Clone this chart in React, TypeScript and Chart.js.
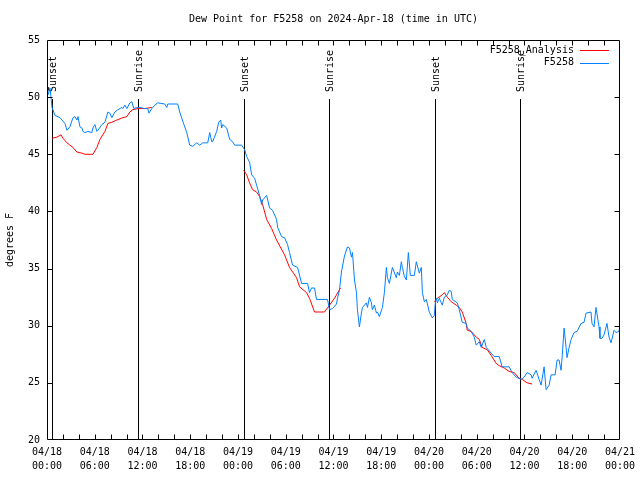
import React, { useEffect, useRef } from "react";
import { Chart, registerables } from "chart.js";

Chart.register(...registerables);

const FONT = '"DejaVu Sans Mono", monospace';
const TITLE = "Dew Point for F5258 on 2024-Apr-18 (time in UTC)";
const Y_TITLE = "degrees F";
const SERIES_NAMES = ["F5258_Analysis", "F5258"];
const SERIES_COLORS = ["#ff0000", "#0080ff"];

// hours since 2024-04-18 00:00 UTC
const blueHours = [
  0.13, 0.38, 0.63, 1.0, 1.63, 2.26, 2.51, 2.88, 3.26, 3.51, 3.76, 3.89, 4.14, 4.39, 4.52, 4.77, 5.14, 5.64, 5.77, 6.02,
  6.27, 6.4, 6.9, 7.28, 7.65, 7.9, 8.15, 8.53, 8.91, 9.41, 9.53, 9.78, 10.04, 10.41, 10.66, 10.91, 11.29, 11.67, 12.29, 12.67,
  12.8, 13.17, 13.55, 13.92, 14.8, 15.05, 15.18, 16.43, 16.68, 17.06, 17.56, 17.94, 18.31, 18.82, 19.19, 19.57, 20.2, 20.45, 20.7, 20.82,
  21.32, 21.58, 21.83, 21.95, 22.08, 22.58, 22.96, 23.33, 23.58, 24.46, 24.84, 25.09, 25.46, 25.72, 26.09, 26.34, 26.72, 26.97, 27.1, 27.6,
  27.97, 28.35, 28.85, 28.98, 29.48, 29.85, 30.23, 30.48, 30.86, 31.49, 31.99, 32.74, 32.99, 33.24, 33.62, 33.87, 35.25, 35.5, 35.88, 36.38,
  36.5, 36.75, 37.0, 37.38, 37.76, 38.01, 38.26, 38.39, 38.64, 38.89, 39.01, 39.26, 39.51, 39.64, 40.14, 40.27, 40.52, 40.77, 40.89, 41.14,
  41.4, 41.52, 41.77, 42.15, 42.4, 42.65, 42.78, 43.03, 43.4, 43.9, 44.03, 44.28, 44.53, 44.66, 44.91, 45.16, 45.41, 45.66, 46.16, 46.41,
  46.79, 47.04, 47.17, 47.42, 47.67, 48.04, 48.42, 48.67, 48.8, 48.92, 49.05, 49.3, 49.67, 49.93, 50.3, 50.55, 50.8, 50.93, 51.56, 51.81,
  52.18, 52.68, 52.81, 53.31, 53.69, 53.94, 54.32, 54.57, 54.95, 55.2, 55.82, 56.2, 56.83, 57.2, 58.08, 58.46, 58.96, 59.58, 59.96, 60.34,
  60.84, 60.96, 61.47, 61.84, 62.09, 62.47, 62.72, 63.1, 63.35, 63.85, 64.1, 64.35, 64.6, 64.73, 64.98, 65.23, 65.35, 65.61, 65.86, 66.23,
  66.61, 67.11, 67.49, 67.74, 68.36, 68.49, 68.74, 68.99, 69.37, 69.49, 69.75, 70.0, 70.37, 70.63, 70.88, 71.26, 71.51, 71.88, 72.0,
];
const blueValues = [
  50.2, 50.8, 49.1, 48.4, 48.2, 47.7, 47.1, 47.4, 48.2, 48.3, 48.0, 48.3, 47.4, 47.3, 47.0, 46.9, 47.0, 46.9, 47.3, 47.6,
  47.0, 47.1, 47.6, 47.8, 48.7, 48.6, 48.2, 48.7, 48.9, 49.1, 49.0, 49.3, 49.0, 49.5, 49.6, 49.0, 49.1, 49.1, 49.0, 49.0,
  48.6, 49.0, 49.3, 49.5, 49.4, 49.1, 49.4, 49.4, 48.7, 47.9, 46.9, 45.8, 45.7, 46.0, 45.8, 46.0, 46.0, 46.9, 46.1, 46.1,
  47.0, 47.8, 48.0, 47.3, 47.6, 47.3, 46.3, 46.1, 45.8, 45.8, 45.4, 44.8, 44.3, 43.2, 42.9, 42.3, 41.4, 40.6, 41.0, 41.4,
  40.3, 40.1, 39.3, 38.6, 37.8, 37.7, 37.1, 36.4, 35.3, 35.1, 33.7, 33.7, 32.9, 33.3, 33.3, 32.3, 32.3, 31.4, 31.5, 31.9,
  32.4, 33.1, 34.7, 36.1, 36.9, 36.8, 36.0, 36.4, 34.0, 32.9, 31.4, 29.9, 31.1, 31.6, 32.0, 31.6, 32.5, 32.0, 31.4, 31.8,
  31.1, 31.2, 30.8, 31.6, 32.9, 35.1, 34.2, 33.7, 35.1, 34.2, 34.7, 34.4, 35.6, 35.1, 34.3, 34.0, 36.4, 34.4, 34.4, 35.6,
  34.6, 35.1, 32.9, 32.1, 32.3, 31.2, 30.7, 30.9, 32.0, 32.4, 32.0, 32.4, 31.8, 32.5, 32.7, 33.1, 33.0, 32.3, 32.0, 31.4,
  30.3, 30.2, 29.8, 29.5, 29.0, 28.3, 28.6, 28.1, 28.8, 28.1, 27.6, 27.3, 27.3, 26.4, 26.4, 25.9, 25.5, 25.3, 25.5, 25.9,
  25.7, 25.4, 26.1, 25.3, 24.8, 26.4, 24.4, 24.8, 25.7, 25.7, 27.0, 27.0, 26.1, 27.2, 29.8, 28.1, 27.2, 28.1, 28.8, 29.4,
  29.5, 30.2, 30.3, 31.1, 31.2, 30.2, 29.9, 31.6, 29.9, 28.9, 28.9, 29.2, 30.2, 29.0, 28.5, 29.6, 29.4, 29.5, 29.9,
];

// analysis: three night-time segments, separated by gaps (null)
const redHours = [
  0.63, 1.25, 1.76, 2.01, 2.51, 2.88, 3.26, 3.76, 4.39, 4.77, 5.77, 6.27, 6.65, 7.28, 7.65, 8.15, 8.78, 9.53, 10.04, 10.41,
  10.79, 11.42, 12.29, 13.17,
  18.0,
  24.71, 25.09, 25.46, 25.84, 26.34, 26.72, 27.1, 27.6, 28.23, 28.85, 29.85, 30.48, 31.36, 31.74, 32.61, 32.99, 33.62, 34.87, 35.5, 36.13,
  36.88,
  42.0,
  48.67, 49.05, 49.67, 49.93, 50.3, 50.8, 51.43, 51.81, 52.18, 52.68, 52.81, 53.31, 53.94, 54.32, 54.69, 55.32, 55.82, 56.45, 56.83, 57.45,
  58.08, 58.71, 59.33, 59.71, 60.34, 60.96,
];
const redValues = [
  46.4, 46.5, 46.7, 46.4, 46.0, 45.8, 45.6, 45.2, 45.1, 45.0, 45.0, 45.6, 46.3, 47.0, 47.7, 47.8, 48.0, 48.2, 48.3, 48.7,
  48.9, 49.0, 49.0, 49.1,
  null,
  43.6, 43.2, 42.5, 41.9, 41.7, 41.3, 40.6, 39.3, 38.5, 37.5, 36.2, 35.1, 34.2, 33.4, 32.9, 32.4, 31.2, 31.2, 31.8, 32.4,
  33.3,
  null,
  32.1, 32.4, 32.7, 32.9, 32.5, 32.1, 31.8, 31.6, 31.2, 30.2, 29.6, 29.5, 29.0, 28.8, 28.1, 27.9, 27.4, 26.7, 26.5, 26.3,
  26.0, 25.9, 25.4, 25.3, 25.0, 24.9,
];

const sunLabels = ["Sunset", "Sunrise", "Sunset", "Sunrise", "Sunset", "Sunrise"];
const sunHours = [0.63, 11.42, 24.71, 35.5, 48.8, 59.46];

const X_MIN = 0;
const X_MAX = 72;
const X_STEP = 2;
const X_LABEL_EVERY = 6;
const Y_MIN = 20;
const Y_MAX = 55;
const Y_STEP = 5;
const START_DAY = 18;

function xLabel(v: number): string | string[] {
  if (v % X_LABEL_EVERY !== 0) return "";
  const day = START_DAY + Math.floor(v / 24);
  const hh = v % 24;
  return ["04/" + String(day).padStart(2, "0"), String(hh).padStart(2, "0") + ":00"];
}

const overlay = {
  id: "gnuplotOverlay",
  beforeDatasetsDraw(chart: any) {
    const { ctx, chartArea: a, scales } = chart;
    const xs = scales.x;
    ctx.save();
    ctx.strokeStyle = "#000";
    ctx.lineWidth = 1;
    ctx.fillStyle = "#000";
    ctx.font = "10px " + FONT;
    sunHours.forEach((h, i) => {
      const px = Math.round(xs.getPixelForValue(h)) + 0.5;
      ctx.beginPath();
      ctx.moveTo(px, a.bottom);
      ctx.lineTo(px, a.top + 59);
      ctx.stroke();
      ctx.save();
      ctx.translate(px + 1, a.top + 52);
      ctx.rotate(-Math.PI / 2);
      ctx.textAlign = "left";
      ctx.textBaseline = "middle";
      ctx.fillText(sunLabels[i], 0, 0);
      ctx.restore();
    });
    ctx.restore();
  },
  afterDraw(chart: any) {
    const { ctx, chartArea: a, scales } = chart;
    const xs = scales.x;
    const ys = scales.y;
    ctx.save();
    ctx.strokeStyle = "#000";
    ctx.lineWidth = 1;
    const L = Math.round(a.left) + 0.5;
    const R = Math.round(a.right) - 0.5;
    const T = Math.round(a.top) + 0.5;
    const B = Math.round(a.bottom) - 0.5;
    ctx.beginPath();
    ctx.rect(L, T, R - L, B - T);
    ctx.stroke();
    const tl = 5;
    ctx.beginPath();
    for (let v = X_MIN + X_STEP; v < X_MAX; v += X_STEP) {
      const px = Math.round(xs.getPixelForValue(v)) + 0.5;
      ctx.moveTo(px, B);
      ctx.lineTo(px, B - tl);
      ctx.moveTo(px, T);
      ctx.lineTo(px, T + tl);
    }
    for (let v = Y_MIN + Y_STEP; v < Y_MAX; v += Y_STEP) {
      const py = Math.round(ys.getPixelForValue(v)) + 0.5;
      ctx.moveTo(L, py);
      ctx.lineTo(L + tl, py);
      ctx.moveTo(R, py);
      ctx.lineTo(R - tl, py);
    }
    ctx.stroke();

    // title
    ctx.fillStyle = "#000";
    ctx.font = "10px " + FONT;
    ctx.textAlign = "center";
    ctx.textBaseline = "middle";
    ctx.fillText(TITLE, (a.left + a.right) / 2, 19);

    // legend (gnuplot style: text, then sample line)
    ctx.textAlign = "right";
    SERIES_NAMES.forEach((name, i) => {
      const yy = a.top + 10 + i * 12.5;
      ctx.fillStyle = "#000";
      ctx.fillText(name, a.right - 46, yy);
      ctx.strokeStyle = SERIES_COLORS[i];
      ctx.beginPath();
      ctx.moveTo(a.right - 40, Math.round(yy) + 0.5);
      ctx.lineTo(a.right - 11, Math.round(yy) + 0.5);
      ctx.stroke();
    });
    ctx.restore();
  },
};

export default function App() {
  const ref = useRef<HTMLCanvasElement | null>(null);
  useEffect(() => {
    if (!ref.current) return;
    const bluePts = blueHours.map((h, i) => ({ x: h, y: blueValues[i] }));
    const redPts = redHours.map((h, i) => ({ x: h, y: redValues[i] }));
    const chart = new Chart(ref.current, {
      type: "line",
      data: {
        datasets: [
          {
            label: SERIES_NAMES[1],
            data: bluePts as any,
            borderColor: SERIES_COLORS[1],
            borderWidth: 1,
            pointRadius: 0,
            tension: 0,
            fill: false,
          },
          {
            label: SERIES_NAMES[0],
            data: redPts as any,
            borderColor: SERIES_COLORS[0],
            borderWidth: 1,
            pointRadius: 0,
            tension: 0,
            fill: false,
            spanGaps: false,
          },
        ],
      },
      options: {
        animation: false,
        responsive: false,
        events: [],
        layout: { padding: { top: 40, right: 19, left: 0, bottom: 0 } },
        plugins: {
          legend: { display: false },
          title: { display: false },
          tooltip: { enabled: false },
        },
        scales: {
          x: {
            type: "linear",
            min: X_MIN,
            max: X_MAX,
            grid: { display: false, drawTicks: false },
            border: { display: false },
            afterFit: (s: any) => {
              s.height = 40;
            },
            ticks: {
              stepSize: X_STEP,
              autoSkip: false,
              maxRotation: 0,
              minRotation: 0,
              padding: 5,
              color: "#000",
              font: { family: FONT, size: 10, lineHeight: 1.4 },
              callback: (v: any) => xLabel(Number(v)),
            },
          },
          y: {
            min: Y_MIN,
            max: Y_MAX,
            grid: { display: false, drawTicks: false },
            border: { display: false },
            afterFit: (s: any) => {
              s.width = 47;
            },
            title: {
              display: true,
              text: Y_TITLE,
              color: "#000",
              font: { family: FONT, size: 10 },
              padding: { top: 4, bottom: 0 },
            },
            ticks: {
              stepSize: Y_STEP,
              padding: 7,
              color: "#000",
              font: { family: FONT, size: 10 },
            },
          },
        },
      },
      plugins: [overlay],
    });
    return () => chart.destroy();
  }, []);
  return (
    <div style={{ position: "absolute", left: 0, top: 0, width: 640, height: 480, background: "#fff" }}>
      <canvas ref={ref} width={640} height={480} />
    </div>
  );
}
